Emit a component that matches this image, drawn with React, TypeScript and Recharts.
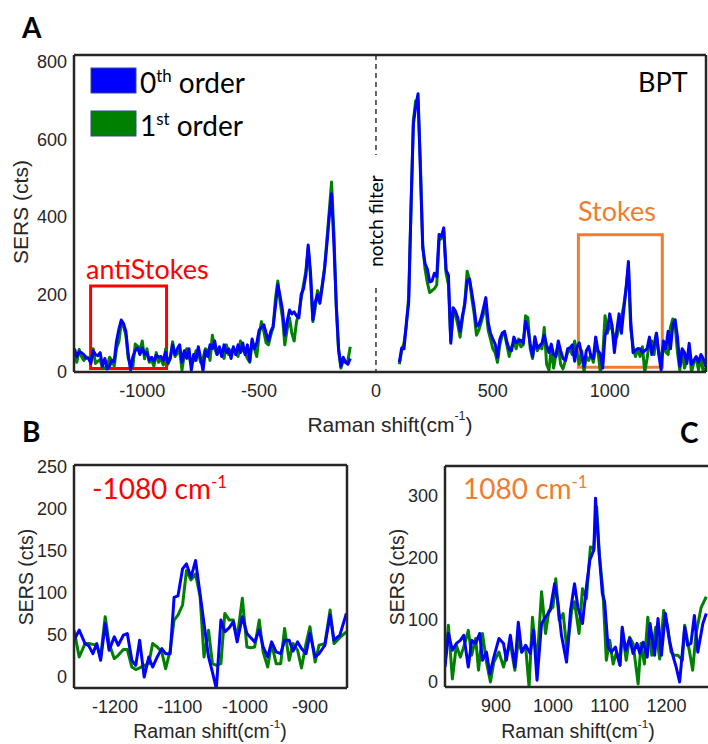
import React from 'react';
import { LineChart, Line, XAxis, YAxis, ReferenceArea, ReferenceLine } from 'recharts';

const BLUE = '#0000ff';
const GREEN = '#008000';
const AXIS = '#262626';
const SANS = '"Liberation Sans", Arial, sans-serif';
const CAL = 'Lato, "Open Sans", sans-serif';

// panel A, anti-Stokes side: x = -1290 .. -110, every 10 cm-1
const aLeftStart = -1290;
const aLeftBlue = [
  60, 40, 52, 50, 45, 36, 35, 22, 55, 45,
  42, 50, 15, 35, 8, 15, 30, 27, 80, 110,
  134, 125, 105, 45, 5, 40, 55, 62, 45, 62,
  46, 50, 30, 38, 28, 43, 38, 40, 30, 51,
  24, 35, 70, 45, 60, 70, 25, 55, 35, 60,
  5, 45, 30, 65, 35, 3, 55, 40, 70, 60,
  80, 45, 65, 40, 70, 50, 60, 35, 65, 45,
  70, 50, 75, 45, 70, 28, 85, 60, 75, 108,
  115, 122, 100, 80, 105, 118, 170, 225, 195, 160,
  95, 130, 160, 150, 155, 145, 140, 200, 215, 250,
  328, 255, 135, 180, 200, 177, 220, 265, 330, 400,
  460, 330, 175, 60, 15, 38, 25, 20, 35,
];
const aLeftGreen = [
  50, 25, 58, 40, 30, 39, 37, 28, 60, 22,
  28, 32, 9, 11, 14, 38, 30, 15, 62, 78,
  126, 118, 95, 35, 20, 14, 72, 67, 55, 80,
  34, 60, 25, 30, 15, 50, 25, 35, 18, 59,
  20, 38, 78, 40, 48, 55, 5, 45, 60, 40,
  20, 30, 55, 50, 25, 35, 60, 55, 30, 95,
  60, 45, 55, 50, 35, 70, 45, 55, 60, 50,
  40, 80, 55, 50, 35, 25, 80, 60, 40, 95,
  130, 105, 75, 70, 95, 115, 190, 235, 180, 140,
  70, 110, 140, 100, 80, 130, 150, 190, 225, 260,
  320, 245, 130, 165, 210, 185, 225, 270, 340, 415,
  490, 360, 170, 55, 10, 30, 25, 30, 65,
];

// panel A, Stokes side: x = 100 .. 1410, every 10 cm-1
const aRightStart = 100;
const aRightBlue = [
  25, 62, 60, 126, 180, 430, 640, 685, 718, 520,
  320, 280, 265, 232, 235, 255, 246, 355, 350, 372,
  263, 250, 74, 166, 157, 140, 105, 145, 175, 235,
  240, 205, 165, 118, 122, 140, 165, 192, 128, 100,
  85, 72, 38, 85, 100, 105, 78, 58, 55, 90,
  76, 80, 82, 74, 130, 110, 72, 40, 91, 62,
  68, 74, 95, 70, 50, 72, 45, 40, 80, 55,
  35, 30, 60, 62, 70, 28, 65, 75, 45, 15,
  55, 66, 40, 35, 90, 55, 46, 10, 94, 110,
  150, 120, 50, 105, 150, 100, 160, 215, 285, 132,
  50, 56, 60, 60, 50, 55, 60, 90, 45, 70,
  100, 45, 5, 80, 60, 105, 60, 120, 135, 90,
  15, 60, 50, 22, 74, 20, 30, 40, 25, 45,
  35, 14,
];
const aRightGreen = [
  20, 55, 75, 120, 195, 420, 650, 700, 700, 540,
  330, 265, 230, 205, 210, 215, 225, 340, 345, 362,
  255, 225, 80, 150, 148, 122, 90, 138, 180, 260,
  238, 190, 150, 95, 108, 128, 150, 170, 108, 85,
  60, 50, 25, 70, 95, 100, 70, 40, 65, 75,
  60, 85, 65, 70, 145, 140, 60, 35, 80, 55,
  65, 60, 115, 20, 5, 60, 10, 45, 70, 20,
  8, 29, 50, 59, 45, 80, 50, 20, 55, 0,
  40, 30, 45, 25, 65, 52, 0, 40, 145, 100,
  120, 110, 90, 90, 115, 140, 170, 216, 270, 110,
  67, 40, 60, 40, 65, 0, 35, 80, 80, 45,
  100, 48, 43, 70, 51, 45, 115, 137, 120, 50,
  5, 55, 10, 30, 60, 0, 25, 35, 5, 40,
  0, 10,
];

// panel B (-1080 cm-1 zoom)
const bX = [
  -1263, -1255, -1246, -1240, -1234, -1228, -1222, -1215, -1209, -1201,
  -1195, -1187, -1181, -1174, -1168, -1162, -1155, -1148, -1142, -1135,
  -1128, -1122, -1115, -1109, -1103, -1096, -1090, -1083, -1076, -1069,
  -1063, -1056, -1050, -1044, -1037, -1031, -1024, -1018, -1012, -1004,
  -997, -991, -985, -978, -972, -965, -959, -952, -945, -939,
  -932, -926, -919, -913, -906, -900, -892, -886, -877, -869,
  -863, -854, -844,
];
const bBlue = [
  43, 55, 39, 36, 27, 39, 19, 63, 31, 47,
  37, 49, 51, 19, 13, 43, -1, 23, 11, 23,
  33, 27, 27, 94, 96, 128, 134, 118, 138, 98,
  63, 23, 5, -15, 67, 53, 58, 65, 41, 71,
  51, 46, 41, 55, 35, 23, 41, 29, 27, 43,
  43, 30, 41, 33, 27, 51, 23, 27, 37, 73,
  43, 49, 75,
];
const bGreen = [
  55, 23, 39, 39, 38, 37, 23, 71, 39, 21,
  25, 32, 32, 11, 8, 10, 13, 15, 39, 35,
  29, 9, 31, 67, 73, 85, 126, 115, 122, 95,
  23, 55, 15, 13, 15, 75, 67, 67, 45, 93,
  35, 34, 35, 67, 29, 11, 39, 15, 15, 57,
  19, 39, 31, 10, 39, 59, 17, 37, 39, 79,
  39, 46, 53,
];

// panel C (1080 cm-1 zoom)
const cBlueX = [
  810, 816, 823, 830, 837, 843, 851, 857, 864, 871,
  876, 883, 889, 896, 905, 913, 918, 925, 933, 939,
  945, 952, 960, 966, 972, 980, 987, 995, 1003, 1009,
  1015, 1024, 1031, 1038, 1044, 1052, 1059, 1065, 1072, 1075,
  1081, 1087, 1091, 1097, 1103, 1110, 1118, 1122, 1128, 1135,
  1141, 1148, 1153, 1159, 1166, 1171, 1179, 1185, 1191, 1198,
  1205, 1211, 1217, 1223, 1232, 1237, 1243, 1249, 1255, 1264,
  1270,
];
const cBlue = [
  24, 78, 51, 62, 67, 75, 24, 67, 62, 78,
  35, 48, 13, 40, 70, 62, 35, 75, 24, 96,
  48, 59, 46, 83, 3, 94, 104, 115, 158, 126,
  75, 32, 115, 158, 120, 94, 153, 196, 212, 295,
  212, 142, 129, 56, 48, 56, 27, 88, 51, 70,
  46, 62, 46, 64, 40, 94, 43, 102, 43, 110,
  67, 43, 24, 0, 88, 59, 62, 107, 48, 94,
  110,
];
const cGreenX = [
  810, 816, 823, 830, 837, 845, 851, 857, 864, 869,
  876, 883, 890, 896, 905, 913, 918, 925, 933, 939,
  945, 952, 958, 964, 972, 980, 987, 993, 1000, 1005,
  1011, 1018, 1025, 1033, 1038, 1046, 1052, 1059, 1066, 1072,
  1077, 1082, 1088, 1094, 1100, 1106, 1112, 1118, 1122, 1129,
  1135, 1141, 1150, 1155, 1161, 1167, 1174, 1181, 1188, 1195,
  1202, 1208, 1214, 1220, 1228, 1232, 1240, 1246, 1252, 1261,
  1270,
];
const cGreen = [
  29, 91, 5, 59, 40, 62, 83, 43, 70, 19,
  78, 32, 0, 32, 48, 24, 43, 62, 19, 67,
  48, 56, -8, 104, 29, 145, 78, 115, 120, 166,
  99, 110, 48, 115, 129, 78, 150, 134, 217, 214,
  281, 201, 147, 35, 67, 29, 48, 27, 83, 35,
  72, 62, -3, 62, 29, 104, 43, 88, 37, 115,
  88, 48, 43, 43, 35, 91, 51, 19, 78, 120,
  137,
];

const aTicksX = [-1000, -500, 0, 500, 1000];
const aTicksY = [0, 200, 400, 600, 800];
const bTicksX = [-1200, -1100, -1000, -900];
const bTicksY = [0, 50, 100, 150, 200, 250];
const cTicksX = [900, 1000, 1100, 1200];
const cTicksY = [0, 100, 200, 300];

const onGrid = (start: number, ys: number[]) => ys.map((y, i) => ({ x: start + 10 * i, y }));
const pairs = (xs: number[], ys: number[]) => xs.map((x, i) => ({ x, y: ys[i] }));

const tickStyle = { fill: AXIS, fontSize: 18, fontFamily: SANS };
const frameLine = { stroke: AXIS, strokeWidth: 2.5 };
const innerTick = { stroke: AXIS, strokeWidth: 2 };

function frame(xd: number[], xt: number[], yd: number[], yt: number[], right: boolean) {
  const axes = [
    <XAxis key="x" xAxisId="x" type="number" dataKey="x" domain={xd} ticks={xt} allowDataOverflow
      tickLine={false} axisLine={frameLine} tick={tickStyle} tickSize={6} tickMargin={6} height={30} />,
    <XAxis key="xm" xAxisId="xm" type="number" dataKey="x" domain={xd} ticks={xt} allowDataOverflow
      mirror tick={false} axisLine={false} tickLine={innerTick} tickSize={5} />,
    <XAxis key="xt" xAxisId="xt" orientation="top" type="number" dataKey="x" domain={xd} ticks={xt} allowDataOverflow
      mirror tick={false} axisLine={frameLine} tickLine={innerTick} tickSize={5} />,
    <YAxis key="y" yAxisId="y" type="number" domain={yd} ticks={yt} allowDataOverflow
      tickLine={false} axisLine={frameLine} tick={tickStyle} width={50} tickSize={4} tickMargin={3} />,
    <YAxis key="ym" yAxisId="ym" type="number" domain={yd} ticks={yt} allowDataOverflow
      mirror tick={false} axisLine={false} tickLine={innerTick} tickSize={5} />,
  ];
  if (right) {
    axes.push(
      <YAxis key="yr" yAxisId="yr" orientation="right" type="number" domain={yd} ticks={yt} allowDataOverflow
        mirror tick={false} axisLine={frameLine} tickLine={innerTick} tickSize={5} />
    );
  }
  return axes;
}

function trace(key: string, data: { x: number; y: number }[], color: string) {
  return (
    <Line key={key} xAxisId="x" yAxisId="y" data={data} dataKey="y" stroke={color} strokeWidth={3}
      dot={false} activeDot={false} isAnimationActive={false} strokeLinejoin="round" />
  );
}

const Sup = ({ t, size }: { t: string; size: number }) => (
  <tspan dy={-size * 0.4} fontSize={size * 0.6}>{t}</tspan>
);

export default function App() {
  return (
    <div style={{ position: 'absolute', left: 0, top: 0, width: 708, height: 744, background: '#fff', overflow: 'hidden' }}>
      <div style={{ position: 'absolute', left: 0, top: 0 }}>
        <LineChart width={708} height={440} margin={{ top: 55, right: 2, bottom: 38, left: 24 }}>
          {frame([-1292, 1412], aTicksX, [0, 818], aTicksY, true)}
          <ReferenceLine xAxisId="x" yAxisId="y" segment={[{ x: 0, y: 818 }, { x: 0, y: 560 }]}
            stroke="#333" strokeWidth={1.5} strokeDasharray="5 4" />
          <ReferenceLine xAxisId="x" yAxisId="y" segment={[{ x: 0, y: 217 }, { x: 0, y: 0 }]}
            stroke="#333" strokeWidth={1.5} strokeDasharray="5 4" />
          {trace('gl', onGrid(aLeftStart, aLeftGreen), GREEN)}
          {trace('gr', onGrid(aRightStart, aRightGreen), GREEN)}
          {trace('bl', onGrid(aLeftStart, aLeftBlue), BLUE)}
          {trace('br', onGrid(aRightStart, aRightBlue), BLUE)}
          <ReferenceArea xAxisId="x" yAxisId="y" x1={-1221} x2={-896} y1={9} y2={222}
            fill="none" stroke="#ff0000" strokeWidth={3} ifOverflow="visible" />
          <ReferenceArea xAxisId="x" yAxisId="y" x1={866} x2={1225} y1={12} y2={354}
            fill="none" stroke="#ed7d31" strokeWidth={3} ifOverflow="visible" />
        </LineChart>
      </div>

      <div style={{ position: 'absolute', left: 0, top: 430 }}>
        <LineChart width={360} height={314} margin={{ top: 35, right: 13, bottom: 26, left: 24 }}>
          {frame([-1263, -843], bTicksX, [-14, 252], bTicksY, true)}
          {trace('g', pairs(bX, bGreen), GREEN)}
          {trace('b', pairs(bX, bBlue), BLUE)}
        </LineChart>
      </div>

      <div style={{ position: 'absolute', left: 360, top: 430 }}>
        <LineChart width={348} height={314} margin={{ top: 36, right: 0, bottom: 27, left: 35 }}>
          {frame([810, 1273], cTicksX, [-8, 347], cTicksY, false)}
          {trace('g', pairs(cGreenX, cGreen), GREEN)}
          {trace('b', pairs(cBlueX, cBlue), BLUE)}
        </LineChart>
      </div>

      <svg width={708} height={744} style={{ position: 'absolute', left: 0, top: 0, pointerEvents: 'none' }}>
        <g fontFamily={CAL} fontWeight="bold" fontSize={28} fill="#000">
          <text x={22} y={38}>A</text>
          <text x={22} y={442}>B</text>
          <text x={680} y={443}>C</text>
        </g>

        <rect x={91} y={68} width={45} height={25} fill={BLUE} stroke="#2f4f8f" strokeWidth={1} />
        <rect x={91} y={111} width={45} height={25} fill={GREEN} stroke="#2f4f8f" strokeWidth={1} />
        <g fontFamily={CAL} fontSize={28} fill="#000">
          <text x={140} y={93}>0<Sup t="th" size={28} /><tspan dy={11}> order</tspan></text>
          <text x={140} y={136}>1<Sup t="st" size={28} /><tspan dy={11}> order</tspan></text>
          <text x={638} y={92} fontSize={27}>BPT</text>
        </g>
        <text x={86} y={279} fontFamily={CAL} fontSize={27} fill="#ff0000">antiStokes</text>
        <text x={578} y={221} fontFamily={CAL} fontSize={27} fill="#ed7d31">Stokes</text>
        <text x={383} y={221} fontFamily={CAL} fontSize={19} fill="#000" textAnchor="middle"
          transform="rotate(-90 383 221)">notch filter</text>

        <text x={92} y={499} fontFamily={CAL} fontSize={28} fill="#ff0000">-1080 cm<Sup t="-1" size={28} /></text>
        <text x={463} y={499} fontFamily={CAL} fontSize={28} fill="#ed7d31">1080 cm<Sup t="-1" size={28} /></text>

        <g fontFamily={SANS} fill={AXIS} textAnchor="middle" dominantBaseline="central">
          <text x={20} y={212} fontSize={21} transform="rotate(-90 20 212)">SERS (cts)</text>
          <text x={390} y={424} fontSize={21}>Raman shift(cm<Sup t="-1" size={21} /><tspan dy={8}>)</tspan></text>
          <text x={26} y={577} fontSize={19.5} transform="rotate(-90 26 577)">SERS (cts)</text>
          <text x={210} y={731} fontSize={19.5}>Raman shift(cm<Sup t="-1" size={19.5} /><tspan dy={8}>)</tspan></text>
          <text x={397} y={577} fontSize={19.5} transform="rotate(-90 397 577)">SERS (cts)</text>
          <text x={578} y={731} fontSize={19.5}>Raman shift(cm<Sup t="-1" size={19.5} /><tspan dy={8}>)</tspan></text>
        </g>
      </svg>
    </div>
  );
}
